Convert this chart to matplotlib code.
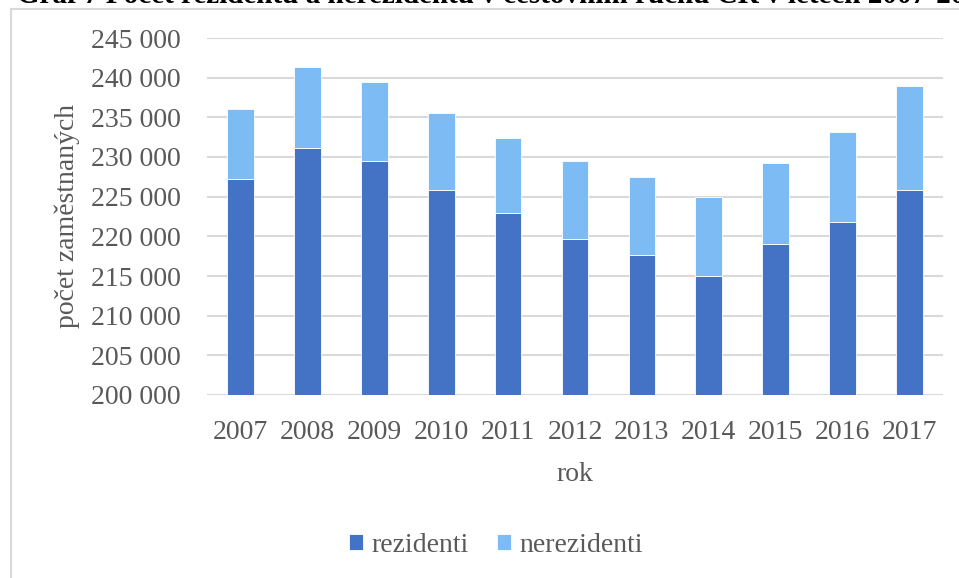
import numpy as np
import matplotlib
matplotlib.use('Agg')
import matplotlib.pyplot as plt
from matplotlib.ticker import FuncFormatter, MultipleLocator
from matplotlib.lines import Line2D

years = ['2007', '2008', '2009', '2010', '2011', '2012', '2013', '2014', '2015', '2016', '2017']
rezidenti = [227200, 231100, 229500, 225800, 223000, 219700, 217700, 215000, 219000, 221800, 225900]
celkem = [236000, 241300, 239500, 235500, 232400, 229500, 227500, 225000, 229200, 233200, 238900]
nerezidenti = [c - r for c, r in zip(celkem, rezidenti)]

plt.rcParams['font.family'] = ['Liberation Serif', 'DejaVu Serif']
grey = '#595959'

fig = plt.figure(figsize=(9.59, 5.78), dpi=100)
ax = fig.add_axes([207/959, 183/578, 736/959, 357/578])

x = np.arange(len(years))
ax.bar(x, rezidenti, width=0.4, color='#4472C4', edgecolor='white', linewidth=0.6,
       label='rezidenti', zorder=3)
ax.bar(x, nerezidenti, width=0.4, bottom=rezidenti, color='#7CBBF4', edgecolor='white',
       linewidth=0.6, label='nerezidenti', zorder=3)

ax.set_xlim(-0.5, len(years) - 0.5)
ax.set_ylim(200000, 245000)
ax.yaxis.set_major_locator(MultipleLocator(5000))
ax.yaxis.set_major_formatter(FuncFormatter(lambda v, p: f"{int(v):,}".replace(",", " ")))
ax.set_xticks(x)
ax.set_xticklabels(years)
ax.grid(axis='y', color='#D9D9D9', linewidth=1.5, zorder=0)
for s in ax.spines.values():
    s.set_visible(False)
ax.tick_params(axis='both', length=0, labelsize=20, labelcolor=grey)
ax.tick_params(axis='x', pad=18)
ax.tick_params(axis='y', pad=19)

ax.set_xlabel('rok', fontsize=20, color=grey, labelpad=12)
ax.set_ylabel('počet zaměstnaných', fontsize=20, color=grey, labelpad=8)

ax.legend(loc='center', bbox_to_anchor=(496/959, 1 - 545/578), bbox_transform=fig.transFigure,
          ncol=2, frameon=False, fontsize=20, labelcolor=grey, handlelength=0.5,
          handleheight=0.5, handletextpad=0.3, columnspacing=1.0)

# frame of the chart area (only left and top visible in the crop)
fig.add_artist(Line2D([11/959, 11/959], [0, 1 - 9/578], transform=fig.transFigure,
                      color='#D9D9D9', linewidth=1.5))
fig.add_artist(Line2D([11/959, 1], [1 - 9/578, 1 - 9/578], transform=fig.transFigure,
                      color='#D9D9D9', linewidth=1.5))

# title cut off at the top of the picture
fig.text(17/959, 1 - 3/578, 'Graf 7 Počet rezidentů a nerezidentů v cestovním ruchu ČR v letech 2007-2017',
         fontsize=21, fontweight='bold', color='black', va='baseline', ha='left')

fig.savefig('out.png', dpi=100)
